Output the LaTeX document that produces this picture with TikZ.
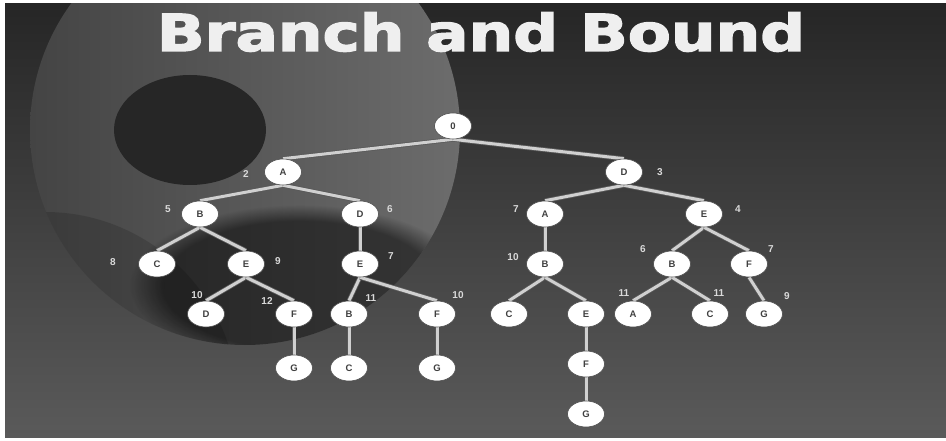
\documentclass[tikz,border=0pt]{standalone}
\usepackage{fontspec}
\setmainfont{Liberation Sans}
\newfontfamily\titlefont{DejaVu Sans Bold}[FakeBold=2.5]
\usetikzlibrary{shapes.geometric,fadings}
\definecolor{bgtop}{HTML}{262626}
\definecolor{bgbot}{HTML}{5A5A5A}
\definecolor{circleft}{HTML}{444444}
\definecolor{circright}{HTML}{6C6C6C}
\definecolor{darkspot}{HTML}{262626}
\definecolor{edgecol}{HTML}{D0D0D0}
\definecolor{numcol}{HTML}{DADADA}
\definecolor{titlecol}{HTML}{EFEFEF}
\pgfdeclarelayer{bg}
\pgfdeclarelayer{edges}
\pgfsetlayers{bg,edges,main}
\begin{document}
\begin{tikzpicture}[x=1pt,y=-1pt,
  tnode/.style={ellipse, fill=white, draw=black!70, line width=0.6pt,
    minimum width=37pt, minimum height=26pt, inner sep=0pt,
    font=\fontsize{9.5}{9.5}\selectfont\bfseries, text=black!75},
  num/.style={font=\fontsize{10}{10}\selectfont\bfseries, text=numcol, inner sep=0pt},
  edgeshadow/.style={line width=4.6pt, draw=black!65},
  edgeline/.style={line width=3pt, draw=edgecol}]
\useasboundingbox (0,0) rectangle (946,441);
\begin{pgfonlayer}{bg}
\fill[white] (0,0) rectangle (946,441);
\begin{scope}
  \clip (5,4) rectangle (946,437);
  \shade[top color=bgtop, bottom color=bgbot] (5,4) rectangle (946,437);
  % big light disc
  \begin{scope}
    \clip (245,130) circle[radius=215pt];
    \shade[left color=circleft, right color=circright] (30,-90) rectangle (460,350);
    \fill[black, opacity=0.5, path fading=circle with fuzzy edge 20 percent]
      (300,285) ellipse[x radius=170pt, y radius=80pt];
    \fill[darkspot] (190,130) ellipse[x radius=76pt, y radius=55pt];
  \end{scope}
  % left lobe
  \begin{scope}
    \clip (45,405) circle[radius=193pt];
    \clip (245,130) circle[radius=215pt];
    \fill[black, opacity=0.15] (5,200) rectangle (260,437);
  \end{scope}
\end{scope}
\end{pgfonlayer}

% title
\node[anchor=base, text=titlecol, xscale=1.23, font=\titlefont\fontsize{51}{51}\selectfont]
  (title) at (481,51) {Branch and Bound};

% tree nodes
\node[tnode] (r)   at (453,126) {0};
\node[tnode] (a1)  at (283,172) {A};
\node[tnode] (d1)  at (624,172) {D};
\node[tnode] (b2)  at (200,214) {B};
\node[tnode] (d2)  at (360,214) {D};
\node[tnode] (a2)  at (545,214) {A};
\node[tnode] (e2)  at (704,214) {E};
\node[tnode] (c3)  at (157,264) {C};
\node[tnode] (e3)  at (246,264) {E};
\node[tnode] (e3b) at (360,264) {E};
\node[tnode] (b3)  at (545,264) {B};
\node[tnode] (b3b) at (672,264) {B};
\node[tnode] (f3)  at (749,264) {F};
\node[tnode] (d4)  at (206,314) {D};
\node[tnode] (f4)  at (294,314) {F};
\node[tnode] (b4)  at (349,314) {B};
\node[tnode] (f4b) at (437,314) {F};
\node[tnode] (c4)  at (509,314) {C};
\node[tnode] (e4)  at (586,314) {E};
\node[tnode] (a4)  at (633,314) {A};
\node[tnode] (c4b) at (710,314) {C};
\node[tnode] (g4)  at (764,314) {G};
\node[tnode] (g5)  at (294,368) {G};
\node[tnode] (c5)  at (349,368) {C};
\node[tnode] (g5b) at (437,368) {G};
\node[tnode] (f5)  at (586,364) {F};
\node[tnode] (g6)  at (586,414) {G};

% bound labels
\node[num] (n1)  at (246,174) {2};
\node[num] (n2)  at (660,172) {3};
\node[num] (n3)  at (168,209) {5};
\node[num] (n4)  at (390,209) {6};
\node[num] (n5)  at (516,209) {7};
\node[num] (n6)  at (738,209) {4};
\node[num] (n7)  at (113,262) {8};
\node[num] (n8)  at (278,261) {9};
\node[num] (n9)  at (391,256) {7};
\node[num] (n10) at (513,257) {10};
\node[num] (n11) at (643,249) {6};
\node[num] (n12) at (771,249) {7};
\node[num] (n13) at (197,295) {10};
\node[num] (n14) at (267,301) {12};
\node[num] (n15) at (371,298) {11};
\node[num] (n16) at (458,295) {10};
\node[num] (n17) at (624,293) {11};
\node[num] (n18) at (719,293) {11};
\node[num] (n19) at (787,296) {9};

% connectors
\begin{pgfonlayer}{edges}
\foreach \p/\c in {r/a1, r/d1, a1/b2, a1/d2, d1/a2, d1/e2, b2/c3, b2/e3, d2/e3b,
                   a2/b3, e2/b3b, e2/f3, e3/d4, e3/f4, e3b/b4, e3b/f4b, b3/c4, b3/e4,
                   b3b/a4, b3b/c4b, f3/g4, f4/g5, b4/c5, f4b/g5b, e4/f5, f5/g6}
{
  \draw[edgeshadow] (\p.south) -- (\c.north);
  \draw[edgeline] (\p.south) -- (\c.north);
}
\end{pgfonlayer}
\end{tikzpicture}
\end{document}
